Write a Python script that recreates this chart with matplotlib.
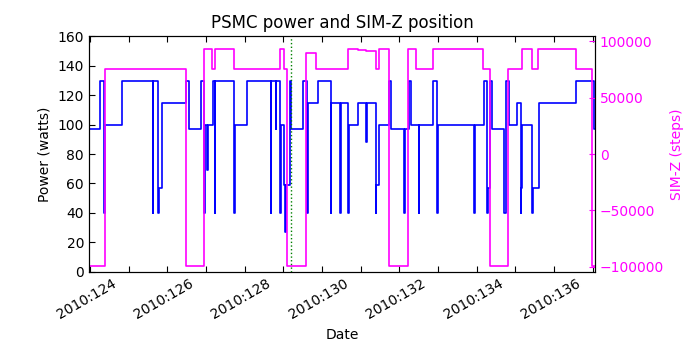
import matplotlib
matplotlib.use('Agg')
import matplotlib.pyplot as plt
from matplotlib.ticker import MultipleLocator, FuncFormatter
from matplotlib.transforms import ScaledTranslation

# times are 2010 day-of-year
pwr_t = [122.974, 123.258, 123.375, 123.388, 123.819, 124.628, 124.643, 124.765,
         124.783, 124.868, 125.473, 125.566, 125.860, 125.953, 125.972, 126.036,
         126.057, 126.178, 126.230, 126.245, 126.729, 126.747, 127.065, 127.677,
         127.693, 127.806, 127.822, 127.910, 127.928, 128.021, 128.047, 128.070,
         128.168, 128.186, 128.512, 128.615, 128.633, 128.884, 129.220, 129.235,
         129.478, 129.494, 129.685, 129.700, 129.943, 130.150, 130.165, 130.390,
         130.408, 130.468, 130.734, 130.796, 131.121, 131.140, 131.251, 131.302,
         131.501, 131.517, 131.871, 131.984, 132.000, 132.930, 132.948, 133.181,
         133.276, 133.292, 133.336, 133.406, 133.705, 133.749, 133.835, 134.052,
         134.137, 134.152, 134.171, 134.439, 134.455, 134.602, 135.558, 136.023]
pwr_w = [97, 129.5, 40, 99.5, 129.5, 40, 129.5, 40,
         57, 114.5, 129.5, 97, 129.5, 40, 99.5, 69,
         99.5, 129.5, 40, 129.5, 40, 99.5, 129.5, 40,
         129.5, 97, 129.5, 40, 99.5, 59, 27, 59,
         129.5, 97, 129.5, 40, 114.5, 129.5, 40, 114.5,
         40, 114.5, 40, 99.5, 114.5, 88, 114.5, 40,
         59, 99.5, 129.5, 97, 40, 97, 129.5, 99.5,
         40, 99.5, 129.5, 40, 99.5, 40, 99.5, 129.5,
         40, 57, 129.5, 97, 40, 129.5, 99.5, 114.5,
         40, 57, 99.5, 40, 57, 114.5, 129.5, 97]

simz_t = [122.974, 123.388, 125.473, 125.953, 126.145, 126.230, 126.729, 127.910,
          128.021, 128.083, 128.599, 128.858, 129.685, 129.943, 130.150, 130.390,
          130.468, 130.734, 131.225, 131.442, 131.871, 133.163, 133.336, 133.819,
          134.171, 134.421, 134.594, 135.558, 135.972]
simz_steps = [-99616, 75624, -99616, 92904, 75624, 92904, 75624, 92904,
              75624, -99616, 89600, 75624, 92904, 92200, 91100, 75624,
              92904, -99616, 92904, 75624, 92904, 75624, -99616, 75624,
              92904, 75624, 92904, 75624, -99616]

t_start, t_stop = 122.974, 136.058
t_mark = 128.194

fig = plt.figure(figsize=(7, 3.5), dpi=100)
ax = fig.add_axes([0.127, 0.223, 0.723, 0.674])
ax.step(pwr_t + [t_stop], pwr_w + [pwr_w[-1]], where='post', color='b', lw=1.2)
ax.set_xlim(t_start, t_stop)
ax.set_ylim(0, 160)
ax.yaxis.set_major_locator(MultipleLocator(20))
ax.xaxis.set_major_locator(MultipleLocator(1))
ax.xaxis.set_major_formatter(FuncFormatter(
    lambda x, pos: '2010:%d' % round(x) if round(x) % 2 == 0 else ''))
ax.tick_params(axis='x', direction='in', top=True, length=4, labelsize=10)
ax.tick_params(axis='y', direction='in', left=True, right=False, length=4, labelsize=10)
ax.set_ylabel('Power (watts)', fontsize=10)
ax.set_xlabel('Date', fontsize=10)
ax.set_title('PSMC power and SIM-Z position', fontsize=12)
for lab in ax.get_xticklabels():
    lab.set_rotation(30)
    lab.set_ha('right')
    lab.set_transform(lab.get_transform() + ScaledTranslation(-0.1, 0, fig.dpi_scale_trans))

ax2 = ax.twinx()
ax2.step(simz_t + [t_stop], simz_steps + [simz_steps[-1]], where='post', color='#ff00ff', lw=1.2)
ax2.axvline(t_mark, color='g', ls=':', lw=1)
ax2.set_xlim(t_start, t_stop)
ax2.set_ylim(-104600, 104600)
ax2.set_yticks([-100000, -50000, 0, 50000, 100000])
ax2.tick_params(axis='y', direction='in', length=4, labelsize=10, colors='#ff00ff')
ax2.set_ylabel('SIM-Z (steps)', color='#ff00ff', fontsize=10)

fig.savefig('out.png', dpi=100)
